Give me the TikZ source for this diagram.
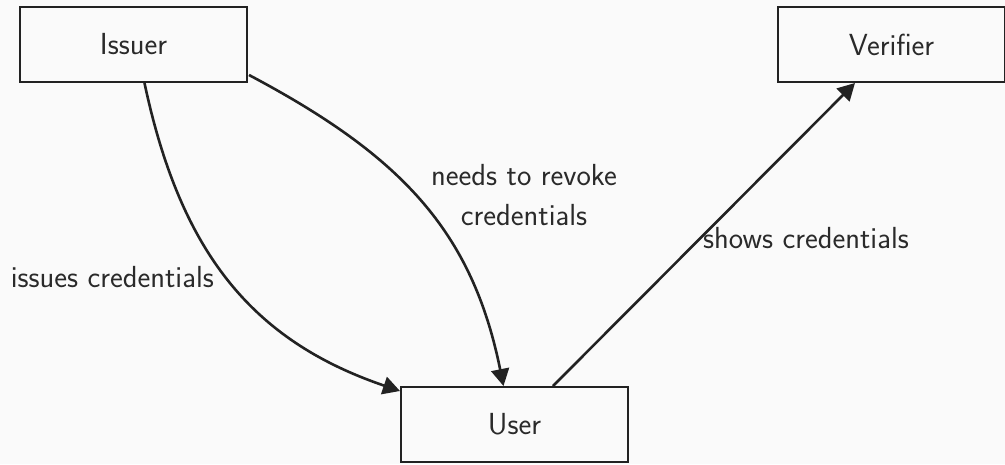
\documentclass[tikz,border=0pt]{standalone}
\usepackage{fontspec}
\usetikzlibrary{arrows.meta,calc}
\definecolor{bg}{HTML}{FAFAFA}
\definecolor{ink}{HTML}{222222}
\definecolor{txt}{HTML}{2A2A2A}
\tikzset{
  box/.style={draw=ink, line width=2pt, minimum width=227pt, minimum height=75pt, inner sep=0pt, text=txt, font=\sffamily\fontsize{30.5}{36}\selectfont},
  conn/.style={draw=ink, line width=2.6pt, -{Triangle[length=17pt,width=18pt]}},
  lbl/.style={text=txt, inner sep=0pt, font=\sffamily\fontsize{30.5}{40}\selectfont, align=center}
}
\begin{document}
\begin{tikzpicture}[x=1pt,y=-1pt]
  \fill[bg] (0,0) rectangle (1005,464);
  \useasboundingbox (0,0) rectangle (1005,464);
  \node[box] (Issuer) at (133.5,44.5) {Issuer};
  \node[box] (Verifier) at (891.5,44.5) {Verifier};
  \node[box] (User) at (514.5,424.5) {User};
  \draw[conn] ($(Issuer.south)+(11,0)$) .. controls (180,250) and (250,340) .. ($(User.north west)+(0,5)$);
  \draw[conn] ($(Issuer.south east)+(1,-8)$) .. controls (400,155) and (472,230) .. ($(User.north)+(-11,0)$);
  \draw[conn] ($(User.north)+(38.5,0)$) -- ($(Verifier.south)+(-36.5,0)$);
  \node[lbl, anchor=east] (l1) at (214,277) {issues credentials};
  \node[lbl] (l2) at (524,195) {needs to revoke\\credentials};
  \node[lbl] (l3) at (806,238) {shows credentials};
\end{tikzpicture}
\end{document}
